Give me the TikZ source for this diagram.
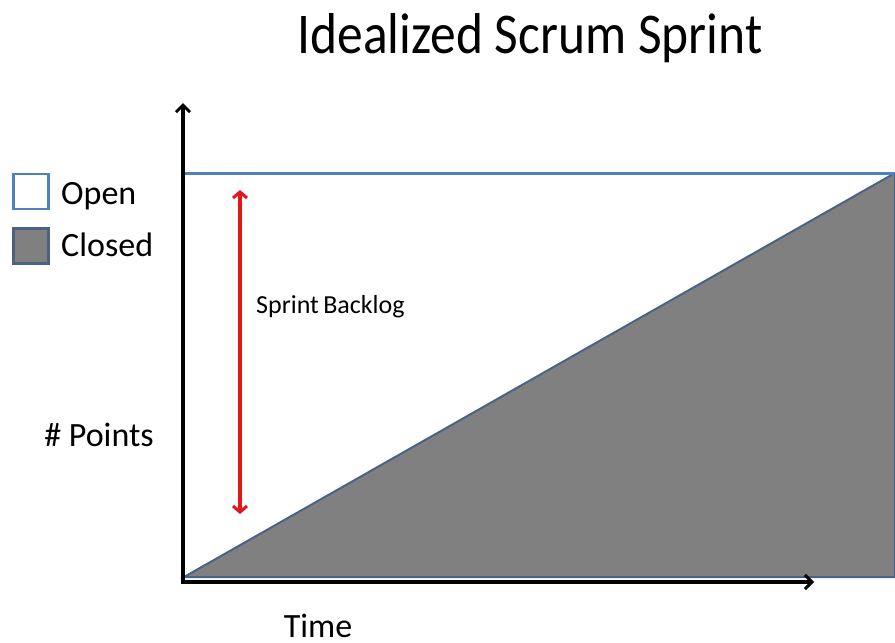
\documentclass[tikz,border=0pt]{standalone}
\usepackage{fontspec}
\setmainfont{Carlito}
\usetikzlibrary{arrows.meta}
\definecolor{officeblue}{HTML}{4F81BD}
\definecolor{closedgray}{HTML}{808080}
\definecolor{edgeblue}{HTML}{4A6384}
\definecolor{arrred}{HTML}{E8141B}
\tikzset{
  axisline/.style={line width=3.6pt, -{Straight Barb[length=7pt,width=14pt,line width=3pt]}},
  lbl/.style={inner sep=0pt, anchor=base, font=\fontsize{34}{38}\selectfont},
  legbox/.style={minimum width=35pt, minimum height=35pt, inner sep=0pt, line width=2.4pt}
}
\begin{document}
\begin{tikzpicture}[x=1pt,y=-1pt]
\useasboundingbox (0,0) rectangle (895,643);
% coordinates
\coordinate (O) at (183,582);
\coordinate (ytop) at (183,103);
\coordinate (xend) at (814,582);
\coordinate (base) at (184,577);
\coordinate (TR) at (895,173);
\coordinate (BR) at (895,577);
\coordinate (TL) at (183,173);
% closed area
\filldraw[fill=closedgray, draw=edgeblue, line width=2pt, line join=miter] (base) -- (TR) -- (BR) -- cycle;
% open top line
\draw[officeblue, line width=3pt] (TL) -- (TR);
% axes
\draw[axisline] ([yshift=1.8pt]O) -- (ytop);
\draw[axisline] ([xshift=-1.8pt]O) -- (xend);
% sprint backlog arrow
\coordinate (sbtop) at (240,190);
\coordinate (sbbot) at (240,514);
\draw[arrred, line width=3.4pt, {Straight Barb[length=6pt,width=14pt,line width=3pt]}-{Straight Barb[length=6pt,width=14pt,line width=3pt]}] (sbtop) -- (sbbot);
\node[anchor=base west, inner sep=0pt, font=\fontsize{26}{30}\selectfont] (sb) at (256,313) {Sprint\,Backlog};
% title
\node[inner sep=0pt, anchor=base, font=\fontsize{51.5}{58}\selectfont] (title) at (530,53) {\scalebox{1}[1.12]{Idealized Scrum Sprint}};
% legend
\node[legbox, draw=officeblue, fill=white] (openbox) at (31,191.5) {};
\node[legbox, draw=edgeblue, fill=closedgray] (closedbox) at (31,246) {};
\node[lbl, anchor=base west] (opent) at (61,204) {Open};
\node[lbl, anchor=base west] (closedt) at (61,256) {Closed};
% axis labels
\node[lbl] (points) at (99,446) {\# Points};
\node[lbl] (time) at (318,637) {Time};
\end{tikzpicture}
\end{document}
